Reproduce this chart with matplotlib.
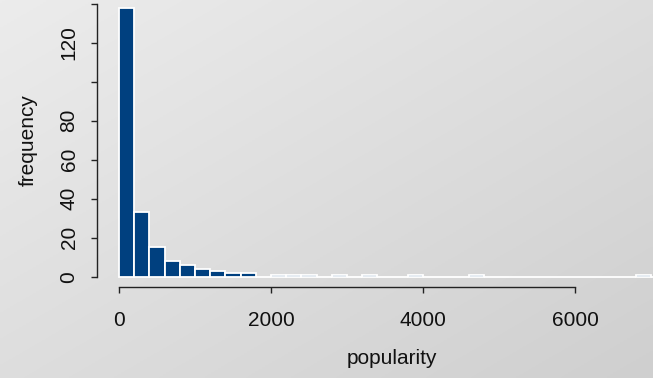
import numpy as np
import matplotlib
matplotlib.use("Agg")
import matplotlib.pyplot as plt
from matplotlib.colors import LinearSegmentedColormap

# ---- data ----
bin_width = 200
bin_starts = list(range(0, 7200, 200))
counts = [138, 33, 15, 8, 6, 4, 3, 2, 2, 0,
          1, 1, 1, 0, 1, 0, 1, 0, 0, 1,
          0, 0, 0, 1, 0, 0, 0, 0, 0, 0,
          0, 0, 0, 0, 1, 0]
x_ticks = [0, 2000, 4000, 6000]
y_ticks = [0, 20, 40, 60, 80, 100, 120, 140]
y_labels = ["0", "20", "40", "60", "80", "", "120", ""]

W, H = 653, 378
fig = plt.figure(figsize=(W / 100, H / 100), dpi=100)
plt.rcParams['font.family'] = ['Liberation Sans', 'DejaVu Sans']
FS = 15

# gradient background
bg = fig.add_axes([0, 0, 1, 1], zorder=0)
yy, xx = np.mgrid[0:1:200j, 0:1:200j]
grad = (xx * 0.5 + yy * 0.5)
cmap = LinearSegmentedColormap.from_list("g", ["#ececec", "#cfcfcf"])
bg.imshow(grad, cmap=cmap, extent=[0, 1, 0, 1], aspect='auto', origin='upper')
bg.axis('off')

# main axes: pixel geometry
left_px, right_px, top_px, bottom_px = 97, 653, 0, 287
ax = fig.add_axes([left_px / W, 1 - bottom_px / H, (right_px - left_px) / W,
                   (bottom_px - top_px) / H], zorder=1)
ax.patch.set_alpha(0)

px_per_x = 152 / 2000.0
x0_px = 119
px_per_y = 1.95
y0_px = 276.7
ax.set_xlim((left_px - x0_px) / px_per_x, (right_px - x0_px) / px_per_x)
ax.set_ylim((y0_px - bottom_px) / px_per_y, (y0_px - top_px) / px_per_y)

ax.bar(bin_starts, counts, width=bin_width, align='edge', color='#00407f',
       edgecolor='white', linewidth=1.3, zorder=2)

for s in ['top', 'right']:
    ax.spines[s].set_visible(False)
ax.spines['bottom'].set_bounds(0, 6000)
ax.spines['left'].set_bounds(0, 140)
for s in ['bottom', 'left']:
    ax.spines[s].set_color('#222222')
    ax.spines[s].set_linewidth(1.0)

ax.set_xticks(x_ticks)
ax.set_xticklabels([str(v) for v in x_ticks])
ax.set_yticks(y_ticks)
ax.set_yticklabels(y_labels, rotation=90, va='center')
ax.tick_params(axis='both', length=4.3, width=1.0, color='#222222',
               labelsize=FS, labelcolor='#111111')
ax.tick_params(axis='x', pad=13)
ax.tick_params(axis='y', pad=9)

fig.text(28 / W, 1 - 140 / H, "frequency", rotation=90, ha='center', va='center',
         fontsize=FS, color='#111111')
fig.text(392 / W, 1 - 359 / H, "popularity", ha='center', va='center',
         fontsize=FS, color='#111111')

fig.savefig("out.png", dpi=100)
